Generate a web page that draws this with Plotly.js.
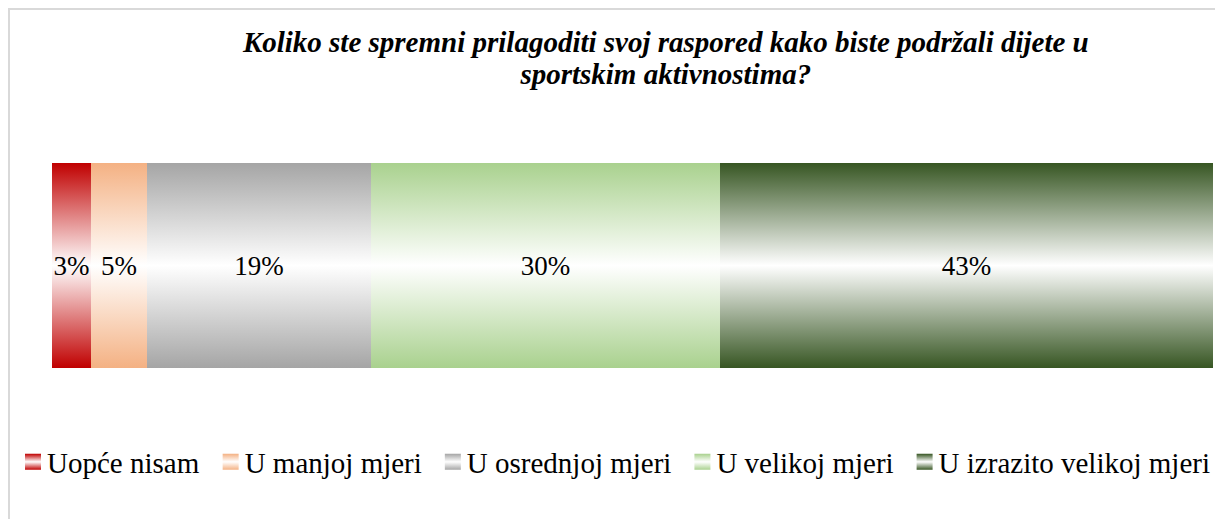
<!DOCTYPE html>
<html>
<head>
<meta charset="utf-8">
<script src="https://cdn.plot.ly/plotly-3.0.1.min.js"></script>
<style>
  html, body { margin: 0; padding: 0; background: #ffffff; overflow: hidden; }
  #frame { position: absolute; left: 8px; top: 8px; width: 1300px; height: 600px; border: 2px solid #D9D9D9; box-sizing: border-box; }
  #chart { position: absolute; left: 0; top: 0; width: 1215px; height: 519px; }
</style>
</head>
<body>
<div id="frame"></div>
<div id="chart"></div>
<script>
// ---- data ----
const categories = ['Uopće nisam', 'U manjoj mjeri', 'U osrednjoj mjeri', 'U velikoj mjeri', 'U izrazito velikoj mjeri'];
const shares = [3.36, 4.82, 19.29, 30.03, 42.5];           // percent of respondents
const labels = shares.map(v => Math.round(v) + '%');
const colors = ['#C00000', '#F4B183', '#A5A5A5', '#A9D18E', '#375623'];
const titleText = '<b><i>Koliko ste spremni prilagoditi svoj raspored kako biste podržali dijete u<br>sportskim aktivnostima?</i></b>';

const fontFamily = 'Liberation Serif';

const traces = categories.map((name, i) => ({
  type: 'bar',
  orientation: 'h',
  name: name,
  x: [shares[i]],
  y: [0],
  width: 1,
  text: [labels[i]],
  textposition: 'inside',
  insidetextanchor: 'middle',
  textangle: 0,
  constraintext: 'none',
  textfont: { family: fontFamily, size: 27, color: '#000000' },
  marker: { color: colors[i], line: { width: 0 } },
  hovertemplate: name + ': %{text}<extra></extra>'
}));

const layout = {
  width: 1215,
  height: 519,
  margin: { l: 52, r: 2, t: 163, b: 151 },
  paper_bgcolor: 'rgba(0,0,0,0)',
  plot_bgcolor: 'rgba(0,0,0,0)',
  font: { family: fontFamily, color: '#000000' },
  barmode: 'stack',
  bargap: 0,
  showlegend: true,
  title: {
    text: titleText,
    font: { family: fontFamily, size: 29, color: '#000000' },
    xref: 'container', x: 0.548, xanchor: 'center',
    yref: 'container', y: 0.9, yanchor: 'top'
  },
  xaxis: { range: [0, 100], visible: false, fixedrange: true },
  yaxis: { range: [-0.5, 0.5], visible: false, fixedrange: true },
  legend: {
    orientation: 'h',
    traceorder: 'normal',
    x: -0.032, xanchor: 'left',
    y: -0.4585, yanchor: 'middle',
    font: { family: fontFamily, size: 29, color: '#000000' },
    bgcolor: 'rgba(0,0,0,0)'
  }
};

function traceIndexOf(el, fallback) {
  let d = el.__data__;
  for (let k = 0; k < 3 && d; k++) {
    if (d.trace && typeof d.trace.index === 'number') return d.trace.index;
    d = Array.isArray(d) ? d[0] : null;
  }
  return fallback;
}

function finishStyling(gd) {
  const svg = gd.querySelector('svg.main-svg');
  const ns = 'http://www.w3.org/2000/svg';
  let defs = svg.querySelector('defs');
  if (!defs) { defs = document.createElementNS(ns, 'defs'); svg.insertBefore(defs, svg.firstChild); }
  colors.forEach((c, i) => {
    const g = document.createElementNS(ns, 'linearGradient');
    g.setAttribute('id', 'barGrad' + i);
    g.setAttribute('x1', '0'); g.setAttribute('y1', '0');
    g.setAttribute('x2', '0'); g.setAttribute('y2', '1');
    [[0, c], [0.5, '#FFFFFF'], [1, c]].forEach(([o, col]) => {
      const s = document.createElementNS(ns, 'stop');
      s.setAttribute('offset', o);
      s.setAttribute('stop-color', col);
      g.appendChild(s);
    });
    defs.appendChild(g);
  });
  gd.querySelectorAll('.barlayer .trace').forEach((tr, j) => {
    const idx = traceIndexOf(tr, j);
    tr.querySelectorAll('path').forEach(p => { p.style.fill = 'url(#barGrad' + idx + ')'; });
  });
  gd.querySelectorAll('.legend .traces').forEach((tr, j) => {
    const idx = traceIndexOf(tr, j);
    tr.querySelectorAll('.legendpoints path').forEach(p => {
      p.setAttribute('d', 'M8,8H-8V-8H8Z');
      p.setAttribute('transform', 'translate(26,0)');
      p.style.fill = 'url(#barGrad' + idx + ')';
      p.style.stroke = 'none';
    });
  });
  // tighter line spacing for the two-line title, as in the original
  const lines = gd.querySelectorAll('.gtitle tspan.line');
  if (lines.length > 1) lines[1].setAttribute('dy', '1.1em');
}

Plotly.newPlot('chart', traces, layout, { displayModeBar: false, responsive: false })
  .then(finishStyling);
</script>
</body>
</html>
